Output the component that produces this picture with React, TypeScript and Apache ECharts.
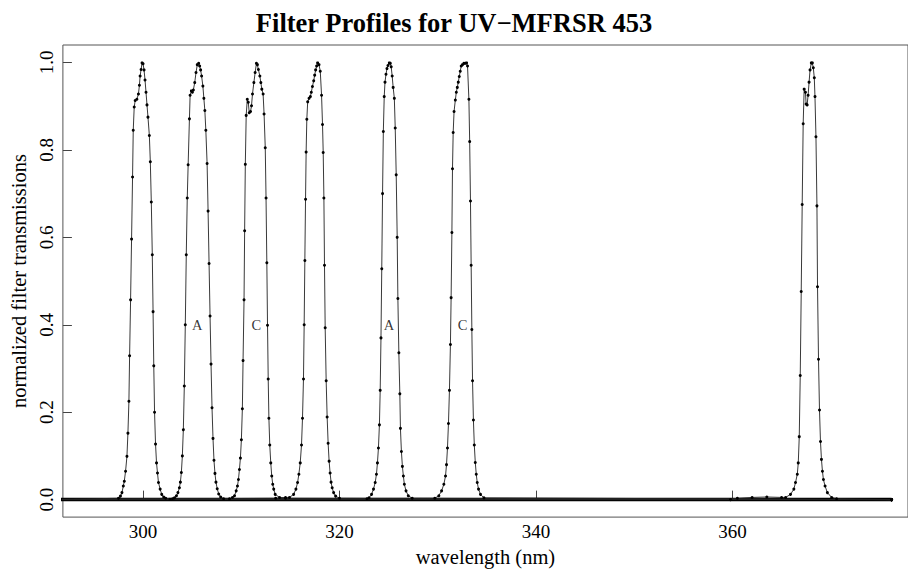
import React, { useEffect, useRef } from "react";
import * as echarts from "echarts";

const wavelengthTicks = [300, 320, 340, 360];
const transmissionTicks = [0, 0.2, 0.4, 0.6, 0.8, 1.0];
const baselineSpan = [290, 376.2];

const filter300: number[][] = [
  [290, 0], [297.5, 0.003], [297.7, 0.008], [297.85, 0.016], [297.99, 0.031], [298.09, 0.042],
  [298.22, 0.065], [298.36, 0.099], [298.46, 0.152], [298.56, 0.225], [298.63, 0.329], [298.73, 0.457],
  [298.83, 0.596], [298.93, 0.738], [299.0, 0.845], [299.1, 0.898], [299.2, 0.913], [299.37, 0.916],
  [299.53, 0.928], [299.63, 0.948], [299.7, 0.969], [299.8, 0.984], [299.9, 0.999], [300.0, 0.997],
  [300.1, 0.983], [300.2, 0.96], [300.3, 0.932], [300.4, 0.903], [300.5, 0.875], [300.64, 0.833],
  [300.74, 0.773], [300.84, 0.681], [300.94, 0.56], [301.02, 0.43], [301.09, 0.306], [301.17, 0.2],
  [301.27, 0.127], [301.37, 0.084], [301.47, 0.061], [301.57, 0.039], [301.74, 0.024], [301.9, 0.012],
  [302.1, 0.006], [302.3, 0.003], [302.74, 0.001], [376.2, 0],
];

const filter306: number[][] = [
  [290, 0], [303.0, 0.002], [303.2, 0.004], [303.4, 0.009], [303.55, 0.016], [303.7, 0.027],
  [303.8, 0.04], [303.9, 0.062], [304.0, 0.1], [304.1, 0.16], [304.2, 0.26], [304.3, 0.4],
  [304.4, 0.56], [304.5, 0.69], [304.59, 0.766], [304.72, 0.871], [304.79, 0.925], [304.92, 0.935],
  [305.02, 0.932], [305.12, 0.937], [305.26, 0.954], [305.39, 0.977], [305.52, 0.995], [305.66, 0.998],
  [305.76, 0.992], [305.86, 0.983], [305.96, 0.969], [306.09, 0.946], [306.19, 0.918], [306.29, 0.89],
  [306.39, 0.845], [306.52, 0.769], [306.62, 0.66], [306.72, 0.54], [306.82, 0.42], [306.92, 0.31],
  [307.02, 0.21], [307.12, 0.14], [307.22, 0.09], [307.32, 0.06], [307.42, 0.04], [307.55, 0.025],
  [307.7, 0.013], [307.9, 0.006], [308.2, 0.002], [376.2, 0],
];

const filter312: number[][] = [
  [290, 0], [308.8, 0.002], [309.1, 0.005], [309.31, 0.009], [309.48, 0.02], [309.61, 0.031],
  [309.71, 0.046], [309.81, 0.069], [309.91, 0.095], [310.01, 0.137], [310.11, 0.208], [310.18, 0.318],
  [310.28, 0.457], [310.34, 0.615], [310.41, 0.767], [310.5, 0.879], [310.61, 0.916], [310.71, 0.909],
  [310.81, 0.885], [310.94, 0.888], [311.04, 0.901], [311.14, 0.928], [311.28, 0.954], [311.41, 0.977],
  [311.54, 0.998], [311.64, 0.995], [311.74, 0.984], [311.89, 0.969], [311.99, 0.954], [312.09, 0.939],
  [312.22, 0.928], [312.32, 0.882], [312.44, 0.805], [312.52, 0.69], [312.6, 0.542], [312.67, 0.399],
  [312.74, 0.276], [312.81, 0.186], [312.9, 0.125], [313.0, 0.084], [313.1, 0.054], [313.2, 0.035],
  [313.3, 0.024], [313.45, 0.012], [313.9, 0.005], [314.5, 0.003], [376.2, 0],
];

const filter318: number[][] = [
  [290, 0], [313.5, 0.003], [314.5, 0.005], [314.9, 0.005], [315.33, 0.012], [315.56, 0.024],
  [315.73, 0.039], [315.86, 0.058], [316.0, 0.084], [316.13, 0.125], [316.23, 0.186], [316.33, 0.276],
  [316.4, 0.4], [316.47, 0.547], [316.54, 0.687], [316.6, 0.795], [316.67, 0.87], [316.76, 0.91],
  [316.9, 0.918], [317.03, 0.922], [317.13, 0.932], [317.24, 0.945], [317.37, 0.958], [317.47, 0.971],
  [317.57, 0.983], [317.67, 0.992], [317.77, 0.999], [317.91, 0.995], [318.04, 0.98], [318.17, 0.925],
  [318.27, 0.858], [318.34, 0.794], [318.41, 0.69], [318.47, 0.536], [318.54, 0.393], [318.64, 0.272],
  [318.74, 0.189], [318.84, 0.129], [318.94, 0.088], [319.04, 0.061], [319.14, 0.04], [319.25, 0.027],
  [319.4, 0.016], [319.6, 0.008], [320.0, 0.003], [376.2, 0],
];

const filter325: number[][] = [
  [290, 0], [322.8, 0.002], [323.0, 0.004], [323.26, 0.012], [323.46, 0.024], [323.63, 0.039],
  [323.76, 0.058], [323.86, 0.084], [323.96, 0.118], [324.06, 0.171], [324.14, 0.25], [324.22, 0.37],
  [324.3, 0.528], [324.38, 0.7], [324.46, 0.842], [324.55, 0.922], [324.63, 0.955], [324.73, 0.973],
  [324.83, 0.986], [324.93, 0.993], [325.07, 0.999], [325.17, 0.998], [325.26, 0.99], [325.36, 0.969],
  [325.46, 0.943], [325.58, 0.918], [325.67, 0.85], [325.77, 0.743], [325.87, 0.6], [325.94, 0.46],
  [326.04, 0.336], [326.14, 0.242], [326.2, 0.163], [326.3, 0.11], [326.4, 0.076], [326.5, 0.054],
  [326.6, 0.035], [326.77, 0.02], [327.0, 0.009], [327.4, 0.003], [376.2, 0],
];

const filter333: number[][] = [
  [290, 0], [329.7, 0.003], [330.11, 0.009], [330.39, 0.02], [330.62, 0.035], [330.79, 0.054],
  [330.89, 0.08], [330.99, 0.118], [331.09, 0.174], [331.19, 0.25], [331.29, 0.355], [331.36, 0.462],
  [331.44, 0.611], [331.5, 0.757], [331.57, 0.84], [331.66, 0.888], [331.79, 0.914], [331.89, 0.932],
  [331.99, 0.943], [332.09, 0.955], [332.19, 0.968], [332.29, 0.98], [332.39, 0.992], [332.52, 0.995],
  [332.66, 0.998], [332.79, 0.998], [332.93, 0.999], [333.03, 0.992], [333.17, 0.916], [333.25, 0.819],
  [333.33, 0.683], [333.4, 0.536], [333.47, 0.389], [333.54, 0.272], [333.63, 0.182], [333.72, 0.125],
  [333.82, 0.085], [333.92, 0.058], [334.02, 0.039], [334.15, 0.024], [334.35, 0.012], [334.7, 0.004],
  [376.2, 0],
];

const filter368: number[][] = [
  [290, 0], [359.8, 0], [360.5, 0.003], [362, 0.005], [363.5, 0.006], [365, 0.005], [365.41, 0.005],
  [365.91, 0.012], [366.25, 0.024], [366.42, 0.039], [366.6, 0.058], [366.7, 0.084], [366.8, 0.144],
  [366.9, 0.284], [367.0, 0.476], [367.1, 0.675], [367.2, 0.86], [367.3, 0.939], [367.43, 0.932],
  [367.5, 0.905], [367.6, 0.903], [367.7, 0.925], [367.8, 0.955], [367.9, 0.983], [368.03, 0.999],
  [368.13, 0.999], [368.23, 0.988], [368.33, 0.965], [368.4, 0.922], [368.5, 0.83], [368.6, 0.672],
  [368.66, 0.487], [368.76, 0.321], [368.86, 0.205], [368.96, 0.133], [369.06, 0.092], [369.16, 0.065],
  [369.26, 0.046], [369.43, 0.031], [369.66, 0.016], [370.1, 0.005], [370.6, 0.002], [376.2, 0],
];

const filterSeries = [filter300, filter306, filter312, filter318, filter325, filter333, filter368];

const labelWavelengths = [305.52, 311.54, 325.03, 332.52];
const labelLetters = ["A", "C", "A", "C"];
const labelLevel = 0.4;

const SERIF = "'Liberation Serif', 'DejaVu Serif', serif";

export default function App() {
  const ref = useRef<HTMLDivElement>(null);
  useEffect(() => {
    if (!ref.current) return;
    const chart = echarts.init(ref.current, undefined, { renderer: "svg" });
    const lineSeries = filterSeries.map((d, i) => ({
      type: "line",
      name: "filter" + i,
      data: d,
      showSymbol: true,
      showAllSymbol: true,
      symbol: "circle",
      symbolSize: 3,
      itemStyle: { color: "#000" },
      lineStyle: { color: "#222", width: 0.9 },
      z: 3,
    }));
    chart.setOption({
      animation: false,
      backgroundColor: "#fff",
      title: {
        text: "Filter Profiles for UV\u2212MFRSR 453",
        left: "center",
        top: 4,
        textStyle: { fontFamily: SERIF, fontWeight: "bold", fontSize: 26.5, color: "#000" },
      },
      grid: {
        left: 57,
        right: -6,
        top: 45,
        bottom: 49,
        show: true,
        borderColor: "#555",
        borderWidth: 1,
        backgroundColor: "transparent",
      },
      xAxis: {
        type: "value",
        min: 291.84,
        max: 377.87,
        name: "wavelength (nm)",
        nameLocation: "middle",
        nameGap: 21,
        nameTextStyle: { fontFamily: SERIF, fontSize: 20.5, color: "#000" },
        axisLine: { show: false },
        splitLine: { show: false },
        axisTick: {
          show: true,
          inside: true,
          length: 9,
          customValues: wavelengthTicks,
          lineStyle: { color: "#444", width: 1 },
        },
        axisLabel: {
          show: true,
          customValues: wavelengthTicks,
          fontFamily: SERIF,
          fontSize: 19,
          color: "#000",
          margin: 5,
          formatter: (v: number) => String(v),
        },
      },
      yAxis: {
        type: "value",
        min: -0.04,
        max: 1.04,
        name: "normalized filter transmissions",
        nameLocation: "middle",
        nameGap: 26,
        nameTextStyle: { fontFamily: SERIF, fontSize: 20.5, color: "#000" },
        axisLine: { show: false },
        splitLine: { show: false },
        axisTick: {
          show: true,
          inside: true,
          length: 9,
          customValues: transmissionTicks,
          lineStyle: { color: "#444", width: 1 },
        },
        axisLabel: {
          show: true,
          customValues: transmissionTicks,
          rotate: 90,
          fontFamily: SERIF,
          fontSize: 19,
          color: "#000",
          margin: 7,
          formatter: (v: number) => v.toFixed(1),
        },
      },
      series: [
        {
          type: "line",
          name: "baseline",
          data: [[baselineSpan[0], 0], [baselineSpan[1], 0]],
          showSymbol: false,
          lineStyle: { color: "#000", width: 3.5 },
          z: 2,
        },
        ...lineSeries,
        {
          type: "scatter",
          name: "labels",
          data: labelWavelengths.map((w, i) => ({ value: [w, labelLevel], name: labelLetters[i] })),
          symbolSize: 1,
          itemStyle: { color: "transparent" },
          label: {
            show: true,
            position: "inside",
            formatter: (p: any) => p.name,
            fontFamily: SERIF,
            fontSize: 14.5,
            color: "#000",
          },
          z: 4,
        },
      ],
    });
    return () => chart.dispose();
  }, []);
  return <div ref={ref} style={{ width: 908, height: 572, position: "absolute", left: 0, top: 0 }} />;
}
